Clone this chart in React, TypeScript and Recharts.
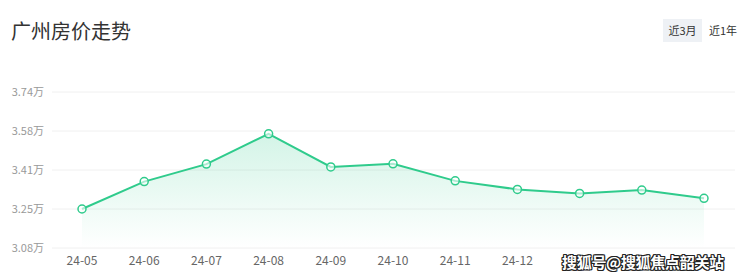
import { AreaChart, Area, XAxis, YAxis, CartesianGrid } from 'recharts';

// monthly average price, unit: 万元/㎡
const months = ['24-05', '24-06', '24-07', '24-08', '24-09', '24-10', '24-11', '24-12', '25-01', '25-02', '25-03'];
const prices = [3.245, 3.361, 3.435, 3.563, 3.423, 3.436, 3.364, 3.328, 3.311, 3.325, 3.29];
// the last month labels sit under the watermark in the source, only these show
const xTicks = ['24-05', '24-06', '24-07', '24-08', '24-09', '24-10', '24-11', '24-12'];
const yTicks = [3.08, 3.245, 3.41, 3.575, 3.74];
const yTickLabels = ['3.08万', '3.25万', '3.41万', '3.58万', '3.74万'];

const data = months.map((m, i) => ({ name: m, price: prices[i] }));

const GREEN = '#2fcb8c';
const FONT = '"Noto Sans CJK SC", "Noto Sans", sans-serif';

export default function App() {
  return (
    <div
      style={{
        position: 'absolute',
        left: 0,
        top: 0,
        width: 740,
        height: 277,
        background: '#fff',
        overflow: 'hidden',
        fontFamily: FONT,
      }}
    >
      <div style={{ position: 'absolute', left: 11, top: 17, fontSize: 20, color: '#333', lineHeight: '28px' }}>
        广州房价走势
      </div>
      <div
        style={{
          position: 'absolute',
          left: 663,
          top: 19,
          width: 39,
          height: 23,
          background: '#eef1f5',
          color: '#333',
          fontSize: 11,
          lineHeight: '23px',
          textAlign: 'center',
        }}
      >
        近3月
      </div>
      <div style={{ position: 'absolute', left: 709, top: 19, fontSize: 11, lineHeight: '23px', color: '#333' }}>
        近1年
      </div>

      <AreaChart width={740} height={277} data={data} margin={{ top: 92, right: 5, bottom: 0, left: 0 }}>
        <defs>
          <linearGradient id="priceFill" x1="0" y1="0" x2="0" y2="1">
            <stop offset="0%" stopColor={GREEN} stopOpacity={0.35} />
            <stop offset="100%" stopColor={GREEN} stopOpacity={0} />
          </linearGradient>
        </defs>
        <CartesianGrid stroke="#f0f0f0" vertical={false} />
        <XAxis
          dataKey="name"
          height={29}
          padding={{ left: 30, right: 31 }}
          axisLine={false}
          tickLine={false}
          ticks={xTicks}
          interval={0}
          tick={{ fontSize: 12, fill: '#666', fontFamily: FONT }}
        />
        <YAxis
          width={52}
          domain={[3.08, 3.74]}
          ticks={yTicks}
          axisLine={false}
          tickLine={false}
          tickFormatter={(v: number) => yTickLabels[yTicks.indexOf(v)]}
          tick={{ fontSize: 11, fill: '#999', fontFamily: FONT }}
        />
        <Area
          type="linear"
          dataKey="price"
          stroke={GREEN}
          strokeWidth={2}
          fill="url(#priceFill)"
          dot={{ r: 4, fill: '#fff', stroke: GREEN, strokeWidth: 1.5 }}
          activeDot={false}
          isAnimationActive={false}
        />
      </AreaChart>

      <div
        style={{
          position: 'absolute',
          left: 562,
          top: 252,
          fontSize: 15,
          fontWeight: 'bold',
          color: '#fff',
          textShadow: '1px 0 0 #222, -1px 0 0 #222, 0 1px 0 #222, 0 -1px 0 #222, 1px 1px 0 #222, -1px -1px 0 #222, 1px -1px 0 #222, -1px 1px 0 #222',
          whiteSpace: 'nowrap',
          letterSpacing: -0.3,
          lineHeight: '20px',
        }}
      >
        搜狐号@搜狐焦点韶关站
      </div>
    </div>
  );
}
